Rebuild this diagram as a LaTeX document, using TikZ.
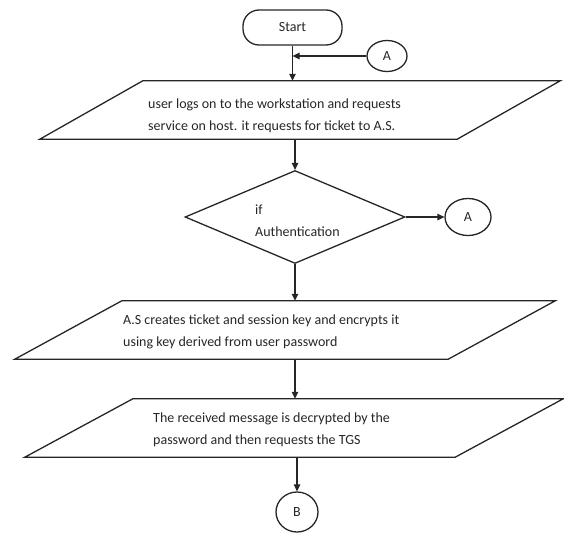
\documentclass[tikz,border=0pt]{standalone}
\usepackage{fontspec}
\setmainfont{Carlito}
\usetikzlibrary{shapes.geometric,arrows.meta,calc}
\begin{document}
\begin{tikzpicture}[x=1pt,y=-1pt,
  line/.style={draw=black!85,line width=1.3pt},
  conn/.style={draw=black!85,line width=1.3pt,-{Triangle[length=7pt,width=6.5pt]}},
  txt/.style={font=\fontsize{14}{22}\selectfont,text=black!85},
  lbl/.style={txt,align=left,inner sep=0pt},
  holder/.style={inner sep=0pt},
  conn circ/.style={line,ellipse,inner sep=0pt,txt}
]
\useasboundingbox (0,0) rectangle (564,533);

% Start
\node[line,rounded corners=16pt,minimum width=99pt,minimum height=35pt,inner sep=0pt,txt] (start) at (292.5,27.5) {Start};
% connector A (top)
\node[conn circ,minimum width=40pt,minimum height=31pt] (a1) at (387,56) {A};
\draw[conn] (a1.west) -- (a1.west -| start.south);

% parallelogram 1
\node[holder,minimum width=520pt,minimum height=58pt] (p1) at (300,110) {};
\draw[line] ($(p1.north west)+(103,0)$) -- (p1.north east) -- ($(p1.south east)-(103,0)$) -- (p1.south west) -- cycle;
\node[lbl,anchor=west] (t1) at (148,116) {user logs on to the workstation and requests\\service on host. it requests for ticket to A.S.};
\draw[conn] (start.south) -- (start.south |- p1.north);

% decision
\node[line,diamond,minimum width=220pt,minimum height=93pt,inner sep=0pt] (d) at (295,217) {};
\node[lbl,anchor=west] (dt) at (255,221) {if\\Authentication};
\draw[conn] (d.north |- p1.south) -- (d.north);

% connector A (right)
\node[conn circ,minimum width=46pt,minimum height=37pt] (a2) at (468,217) {A};
\draw[conn] (d.east) -- (a2.west);

% parallelogram 2
\node[holder,minimum width=540pt,minimum height=58pt] (p2) at (285,330) {};
\draw[line] ($(p2.north west)+(107,0)$) -- (p2.north east) -- ($(p2.south east)-(107,0)$) -- (p2.south west) -- cycle;
\node[lbl,anchor=west] (t2) at (123,332) {A.S creates ticket and session key and encrypts it\\using key derived from user password};
\draw[conn] (d.south) -- (d.south |- p2.north);

% parallelogram 3
\node[holder,minimum width=538pt,minimum height=58pt] (p3) at (294,428) {};
\draw[line] ($(p3.north west)+(108,0)$) -- (p3.north east) -- ($(p3.south east)-(108,0)$) -- (p3.south west) -- cycle;
\node[lbl,anchor=west] (t3) at (153,430) {The received message is decrypted by the\\password and then requests the TGS};
\draw[conn] (d.south |- p2.south) -- (d.south |- p3.north);

% connector B
\node[conn circ,minimum width=42pt,minimum height=40pt] (b) at (297,512) {B};
\draw[conn] (b.north |- p3.south) -- (b.north);
\end{tikzpicture}
\end{document}
